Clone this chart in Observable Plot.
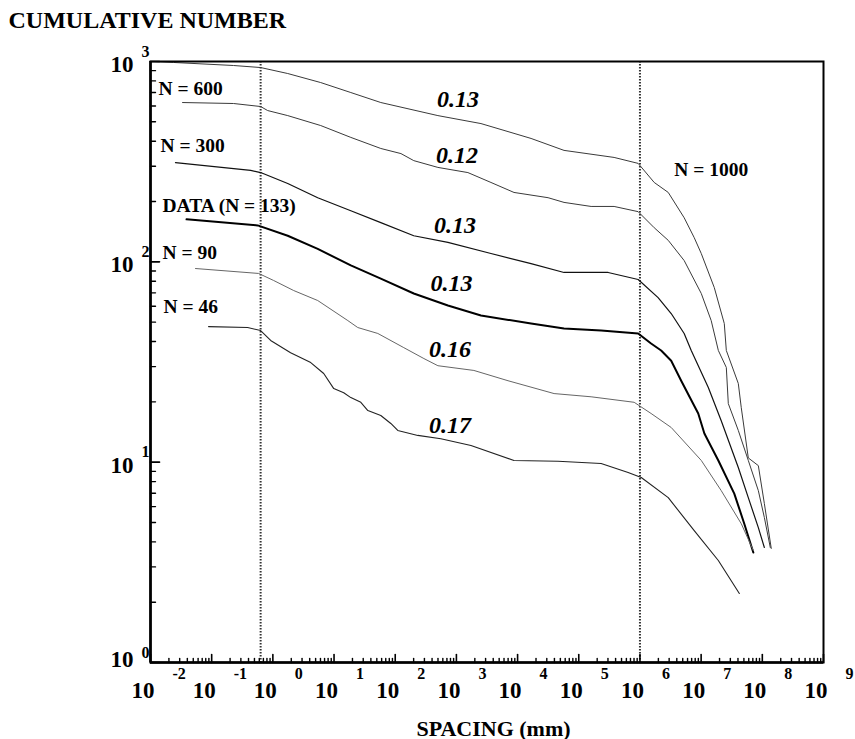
<!DOCTYPE html>
<html>
<head>
<meta charset="utf-8">
<script src="https://cdn.jsdelivr.net/npm/d3@7"></script>
<script src="https://cdn.jsdelivr.net/npm/@observablehq/plot@0.6"></script>
<style>
  body { margin: 0; background: #fff; }
  svg { display: block; }
</style>
</head>
<body>
<div id="chart"></div>
<script>
// ---- Data (spacing in mm, cumulative number) ----
const n1000Spacing = [0.0112, 0.0238, 0.228, 0.631, 1.75, 6.05, 18.8, 58.1, 498, 2520, 16600, 57400, 378000, 935000, 1.71e6, 2.90e6, 5.28e6, 7.71e6, 1.005e7, 1.64e7, 2.39e7, 2.58e7, 4.05e7, 4.53e7, 5.90e7, 8.61e7, 1.08e8, 1.40e8];
const n1000Count   = [1000, 989, 955, 933, 871, 785, 700, 624, 537, 490, 413, 360, 332, 310, 249, 222, 166, 132, 110, 74.4, 49.2, 36.1, 24.7, 18.7, 10.5, 9.61, 6.21, 3.71];

const n600Spacing = [0.0334, 0.228, 0.631, 0.822, 1.75, 6.05, 18.8, 58.1, 124, 201, 498, 1540, 3670, 8730, 31500, 57400, 159000, 378000, 935000, 1.71e6, 2.90e6, 5.28e6, 1.005e7, 1.46e7, 1.91e7, 2.58e7, 2.78e7, 4.05e7, 5.90e7, 8.61e7, 1.08e8, 1.35e8];
const n600Count   = [624, 617, 596, 569, 537, 479, 418, 368, 347, 320, 296, 279, 249, 222, 209, 198, 189, 189, 178, 148, 128, 101.5, 69.5, 50.9, 36.1, 29.7, 19.6, 14.4, 10.2, 7.21, 5.29, 3.75];

const n300Spacing = [0.0256, 0.434, 0.631, 1.75, 5.41, 18.8, 58.1, 201, 726, 3670, 16600, 57400, 302000, 935000, 1.98e6, 3.24e6, 5.28e6, 6.89e6, 1.31e7, 2.13e7, 4.05e7, 5.90e7, 8.61e7, 1.08e8];
const n300Count   = [313, 286, 279, 246, 209, 180, 157, 135, 125, 110, 98, 88.5, 88.5, 81.6, 66.3, 55.2, 43.9, 36.1, 23.6, 16.1, 9.40, 6.65, 4.71, 3.75];

const dataSpacing = [0.0388, 0.564, 1.75, 5.41, 18.8, 58.1, 201, 726, 2520, 16600, 57400, 232000, 935000, 1.52e6, 2.22e6, 3.24e6, 4.72e6, 8.97e6, 1.13e7, 1.91e7, 3.48e7, 5.07e7, 7.13e7];
const dataCount   = [163, 152, 135, 116, 96, 82.5, 69.5, 60.5, 54.0, 49.2, 46.5, 45.4, 43.9, 39.1, 36.1, 32.1, 25.5, 17.5, 13.9, 10.2, 6.97, 4.93, 3.54];

const n90Spacing = [0.0544, 0.586, 1.03, 2.19, 5.41, 16.8, 24.4, 51.9, 138, 294, 498, 1930, 6970, 39500, 159000, 804000, 1.52e6, 3.24e6, 1.005e7, 2.13e7, 4.53e7, 7.13e7];
const n90Count   = [92.6, 87.5, 80.7, 71.9, 64.1, 50.9, 47.0, 43.9, 37.3, 32.9, 30.3, 28.7, 25.5, 22.0, 21.2, 19.9, 17.5, 14.9, 10.2, 7.21, 4.93, 3.62];

const n46Spacing = [0.0889, 0.387, 0.631, 0.920, 1.95, 4.16, 6.78, 9.89, 14.4, 18.8, 27.4, 35.7, 58.1, 84.7, 110, 234, 557, 1730, 8730, 45800, 232000, 641000, 1.05e6, 2.90e6, 7.71e6, 1.91e7, 4.21e7];
const n46Count   = [47.5, 47.0, 45.4, 40.5, 35.2, 31.4, 27.7, 23.3, 22.2, 21.0, 19.9, 18.1, 17.1, 15.6, 14.4, 13.6, 13.1, 12.1, 10.2, 10.1, 9.84, 8.87, 8.38, 6.65, 4.55, 3.23, 2.21];

// vertical dotted reference lines (mm)
const limitLines = [0.631, 1e6];

// tick label exponents
const xExponents = [-2, -1, 0, 1, 2, 3, 4, 5, 6, 7, 8, 9];
const yExponents = [0, 1, 2, 3];

// curve names & annotation texts
const curveLabels = ["N = 600", "N = 300", "DATA (N = 133)", "N = 90", "N = 46", "N = 1000"];
const curveLabelSpacing = [0.0135, 0.0146, 0.0157, 0.0157, 0.0163, 3.63e6];
const curveLabelCount = [733, 381, 191, 111, 59.4, 289];

const slopeLabels = ["0.13", "0.12", "0.13", "0.13", "0.16", "0.17"];
const slopeSpacing = [1059, 1020, 944, 828, 783, 783];
const slopeCount = [646, 340, 152, 78, 36.7, 15.2];

// ---- build tables ----
const zip = (xs, ys) => xs.map((x, i) => ({spacing: x, count: ys[i]}));
const series = [
  {name: "N = 1000", pts: zip(n1000Spacing, n1000Count), stroke: "#3a3a3a", w: 1},
  {name: "N = 600", pts: zip(n600Spacing, n600Count), stroke: "#3a3a3a", w: 1},
  {name: "N = 300", pts: zip(n300Spacing, n300Count), stroke: "#111", w: 1.2},
  {name: "DATA", pts: zip(dataSpacing, dataCount), stroke: "#000", w: 2},
  {name: "N = 90", pts: zip(n90Spacing, n90Count), stroke: "#666", w: 1},
  {name: "N = 46", pts: zip(n46Spacing, n46Count), stroke: "#222", w: 1.1}
];

const xMajor = xExponents.map(e => 10 ** e);
const xMinor = xExponents.slice(0, -1).flatMap(e => [2,3,4,5,6,7,8,9].map(m => m * 10 ** e));
const yMajor = yExponents.map(e => 10 ** e);
const yMinor = yExponents.slice(0, -1).flatMap(e => [2,3,4,5,6,7,8,9].map(m => m * 10 ** e));

const xMin = xMajor[0], yMin = yMajor[0];
const tickShape = {draw(ctx, l) { ctx.moveTo(0, 0); ctx.lineTo(0, -l); }};
const FONT = "Liberation Serif, Times New Roman, serif";
const bold = {fontWeight: "bold", fontFamily: FONT, fill: "#000"};

const marks = [
  Plot.ruleX(limitLines, {stroke: "#333", strokeWidth: 2, strokeDasharray: "1.6,1.4"}),
  ...series.map(s => Plot.line(s.pts, {x: "spacing", y: "count", stroke: s.stroke, strokeWidth: s.w})),
  Plot.frame({stroke: "#000", strokeWidth: 2}),
  Plot.ruleX([xMin], {stroke: "#000", strokeWidth: 2.6}),
  Plot.ruleY([yMin], {stroke: "#000", strokeWidth: 2.6}),
  // x ticks (inward, up)
  Plot.vector(xMajor, {x: d => d, y: () => yMin, length: 8, rotate: 0, anchor: "start", shape: tickShape, stroke: "#000", strokeWidth: 1.6}),
  Plot.vector(xMinor, {x: d => d, y: () => yMin, length: 4, rotate: 0, anchor: "start", shape: tickShape, stroke: "#000", strokeWidth: 1.4}),
  // y ticks (inward, right)
  Plot.vector(yMajor, {x: () => xMin, y: d => d, length: 9, rotate: 90, anchor: "start", shape: tickShape, stroke: "#000", strokeWidth: 1.6}),
  Plot.vector(yMinor, {x: () => xMin, y: d => d, length: 5, rotate: 90, anchor: "start", shape: tickShape, stroke: "#000", strokeWidth: 1.4}),
  // x tick labels
  Plot.text(xExponents, {x: d => 10 ** d, y: () => yMin, text: () => "10", dx: -7.5, dy: 28, fontSize: 23, ...bold}),
  Plot.text(xExponents, {x: d => 10 ** d, y: () => yMin, text: d => String(d), textAnchor: "start", dx: 22, dy: 11, fontSize: 16, ...bold}),
  // y tick labels
  Plot.text(yExponents.filter(e => e > 0), {x: () => xMin, y: d => 10 ** d, text: () => "10", dx: -28.5, dy: 3, fontSize: 23, ...bold}),
  Plot.text(yExponents.filter(e => e === 0), {x: () => xMin, y: d => 10 ** d, text: () => "10", dx: -28.5, dy: -3, fontSize: 23, ...bold}),
  Plot.text(yExponents, {x: () => xMin, y: d => 10 ** d, text: d => String(d), dx: -5, dy: -10, fontSize: 16, ...bold}),
  // curve labels
  Plot.text(curveLabels, {x: (d, i) => curveLabelSpacing[i], y: (d, i) => curveLabelCount[i], text: d => d, textAnchor: "start", fontSize: 19.5, ...bold}),
  // slope labels
  Plot.text(slopeLabels, {x: (d, i) => slopeSpacing[i], y: (d, i) => slopeCount[i], text: d => d, fontSize: 24, fontStyle: "italic", ...bold}),
  // titles
  Plot.text(["CUMULATIVE NUMBER"], {frameAnchor: "top-left", text: d => d, textAnchor: "start", lineAnchor: "middle", dx: -142, dy: -41, fontSize: 24, ...bold}),
  Plot.text(["SPACING (mm)"], {frameAnchor: "bottom", text: d => d, lineAnchor: "middle", dx: 6.5, dy: 66, fontSize: 22, ...bold})
];

const chart = Plot.plot({
  width: 855,
  height: 739,
  marginTop: 61,
  marginRight: 32,
  marginBottom: 77,
  marginLeft: 150,
  style: {fontFamily: FONT, background: "#fff", overflow: "visible"},
  x: {type: "log", domain: [xMajor[0], xMajor[xMajor.length - 1]], axis: null},
  y: {type: "log", domain: [yMajor[0], yMajor[yMajor.length - 1]], axis: null},
  marks
});
document.getElementById("chart").appendChild(chart);
</script>
</body>
</html>
